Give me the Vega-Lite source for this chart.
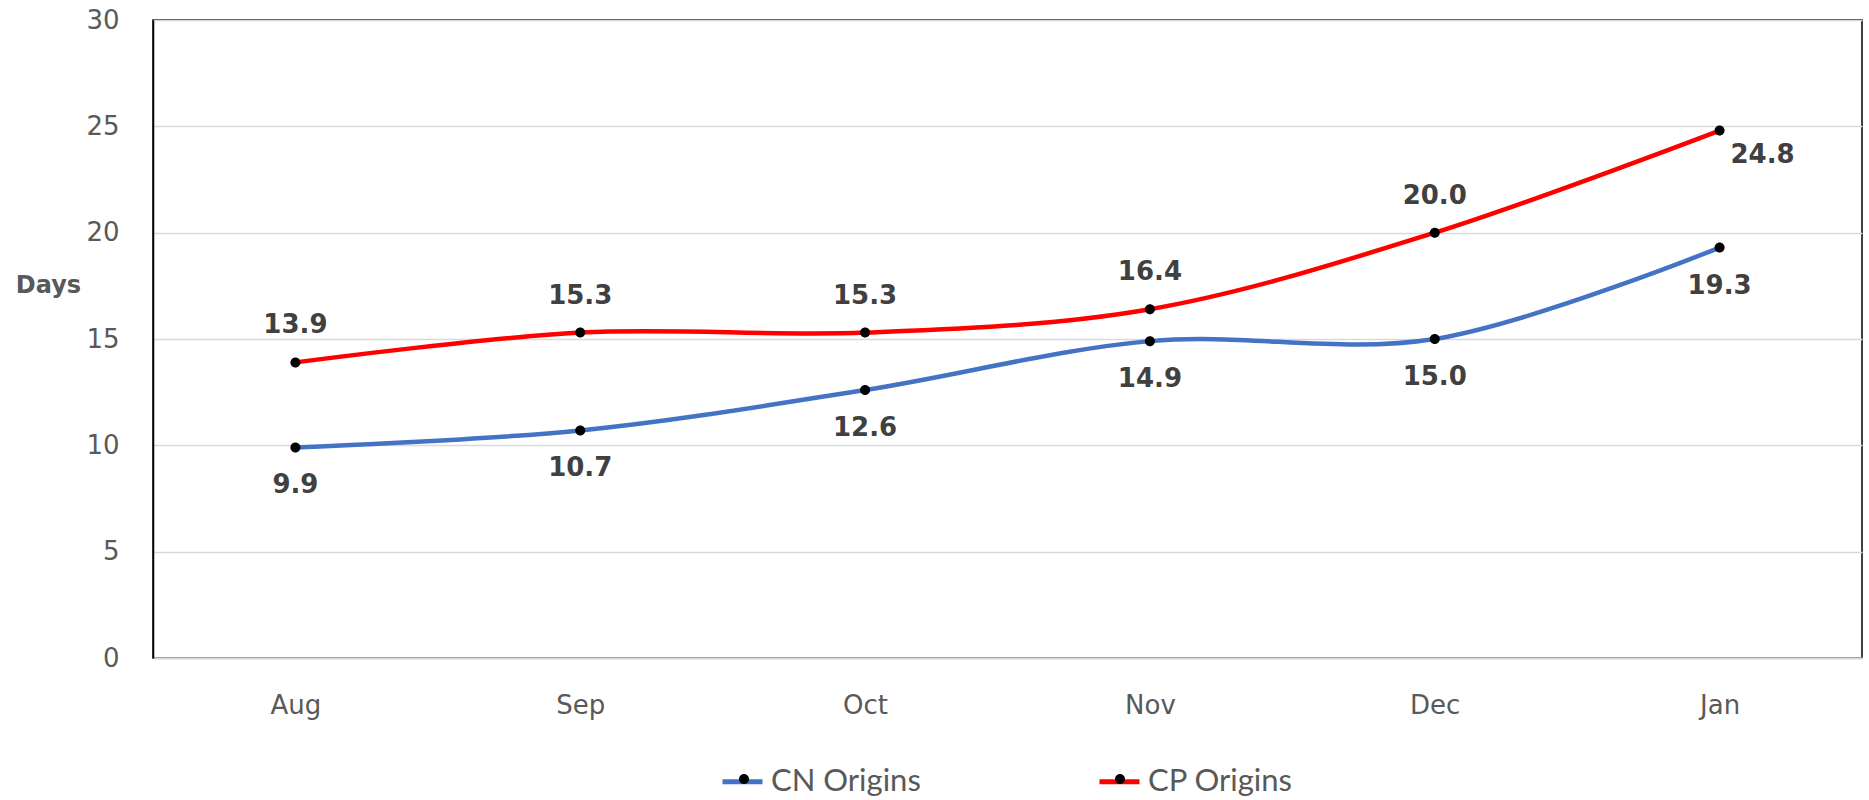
{
  "$schema": "https://vega.github.io/schema/vega-lite/v6.json",
  "width": 1709,
  "height": 638,
  "autosize": {"type": "none"},
  "padding": {"left": 153, "top": 20, "right": 7, "bottom": 142},
  "background": "white",
  "config": {
    "view": {"stroke": "#000000", "strokeWidth": 1.5},
    "font": "DejaVu Sans"
  },
  "data": {
    "values": [
      {"month": "Aug", "series": "CN Origins", "days": 9.9},
      {"month": "Sep", "series": "CN Origins", "days": 10.7},
      {"month": "Oct", "series": "CN Origins", "days": 12.6},
      {"month": "Nov", "series": "CN Origins", "days": 14.9},
      {"month": "Dec", "series": "CN Origins", "days": 15.0},
      {"month": "Jan", "series": "CN Origins", "days": 19.3},
      {"month": "Aug", "series": "CP Origins", "days": 13.9},
      {"month": "Sep", "series": "CP Origins", "days": 15.3},
      {"month": "Oct", "series": "CP Origins", "days": 15.3},
      {"month": "Nov", "series": "CP Origins", "days": 16.4},
      {"month": "Dec", "series": "CP Origins", "days": 20.0},
      {"month": "Jan", "series": "CP Origins", "days": 24.8}
    ]
  },
  "encoding": {
    "x": {
      "field": "month", "type": "ordinal", "sort": null,
      "scale": {"type": "point", "padding": 0.5},
      "axis": {
        "title": null, "labelAngle": 0, "labelFont": "DejaVu Sans", "labelFontSize": 26,
        "labelColor": "#595959", "labelPadding": 34, "ticks": false,
        "domainColor": "#d9d9d9", "domainWidth": 2, "grid": false
      }
    },
    "y": {
      "field": "days", "type": "quantitative",
      "scale": {"domain": [0, 30], "nice": false},
      "axis": {
        "title": "Days", "titleAngle": 0, "titleFont": "DejaVu Sans", "titleFontWeight": "bold",
        "titleFontSize": 24, "titleColor": "#595959", "titleX": -105, "titleY": 265,
        "titleAlign": "center", "titleBaseline": "middle",
        "values": [0, 5, 10, 15, 20, 25, 30],
        "labelFont": "DejaVu Sans", "labelFontSize": 26, "labelColor": "#595959", "labelPadding": 34,
        "ticks": false, "domainColor": "#000000", "domainWidth": 1.5,
        "gridColor": "#d9d9d9", "gridWidth": 1.5
      }
    }
  },
  "layer": [
    {
      "mark": {"type": "line", "interpolate": "catmull-rom", "strokeWidth": 4.5},
      "encoding": {
        "color": {
          "field": "series", "type": "nominal",
          "scale": {"domain": ["CN Origins", "CP Origins"], "range": ["#4472C4", "#FF0000"]},
          "legend": {
            "title": null, "orient": "none", "direction": "horizontal",
            "legendX": 567, "legendY": 739, "padding": 0,
            "symbolType": "stroke", "symbolSize": 1600, "symbolStrokeWidth": 5,
            "labelFont": "Lato", "labelFontSize": 31, "labelColor": "#595959",
            "labelOffset": 6, "columnPadding": 168
          }
        }
      }
    },
    {
      "mark": {"type": "point", "filled": true, "color": "#000000", "size": 1600, "opacity": 1},
      "encoding": {
        "shape": {
          "field": "series", "type": "nominal",
          "scale": {
            "range": [
              "M -0.25,0 A 0.25,0.25 0 1,0 0.25,0 A 0.25,0.25 0 1,0 -0.25,0 Z",
              "M -0.25,0 A 0.25,0.25 0 1,0 0.25,0 A 0.25,0.25 0 1,0 -0.25,0 Z"
            ]
          },
          "legend": {
            "title": null, "orient": "none", "direction": "horizontal",
            "legendX": 571, "legendY": 739, "padding": 0,
            "symbolSize": 1600, "symbolFillColor": "#000000", "symbolStrokeWidth": 0,
            "labelFont": "Lato", "labelFontSize": 31,
            "labelExpr": "''", "labelOffset": 6, "columnPadding": 330
          }
        }
      }
    },
    {
      "transform": [{"filter": "datum.series == 'CN Origins'"}],
      "mark": {"type": "text", "dy": 38, "fontSize": 26, "fontWeight": "bold", "color": "#404040", "font": "DejaVu Sans", "baseline": "middle"},
      "encoding": {"text": {"field": "days", "type": "quantitative", "format": ".1f"}}
    },
    {
      "transform": [{"filter": "datum.series == 'CP Origins' && datum.month != 'Jan'"}],
      "mark": {"type": "text", "dy": -37, "fontSize": 26, "fontWeight": "bold", "color": "#404040", "font": "DejaVu Sans", "baseline": "middle"},
      "encoding": {"text": {"field": "days", "type": "quantitative", "format": ".1f"}}
    },
    {
      "transform": [{"filter": "datum.series == 'CP Origins' && datum.month == 'Jan'"}],
      "mark": {"type": "text", "dx": 43, "dy": 24, "fontSize": 26, "fontWeight": "bold", "color": "#404040", "font": "DejaVu Sans", "baseline": "middle"},
      "encoding": {"text": {"field": "days", "type": "quantitative", "format": ".1f"}}
    }
  ]
}
